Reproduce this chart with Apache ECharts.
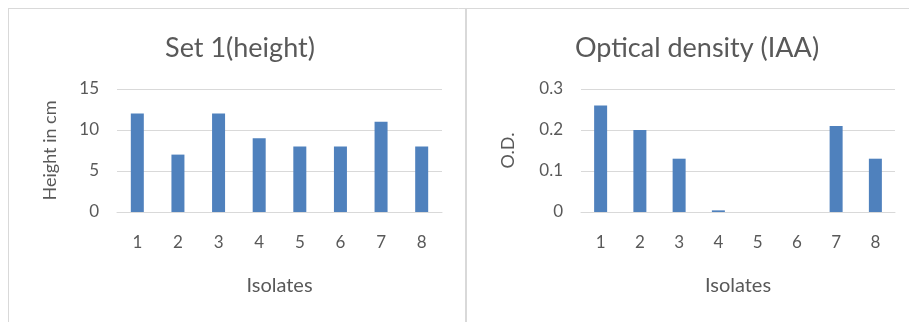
<!DOCTYPE html>
<html>
<head>
<meta charset="utf-8">
<script src="https://cdn.jsdelivr.net/npm/echarts@6/dist/echarts.min.js"></script>
<style>
  html, body { margin: 0; padding: 0; background: #fff; }
  #myChart { width: 909px; height: 322px; }
</style>
</head>
<body>
<div id="myChart"></div>
<script>
// 数据
const isolates = ['1', '2', '3', '4', '5', '6', '7', '8'];
const heightCm = [12, 7, 12, 9, 8, 8, 11, 8];
const opticalDensity = [0.26, 0.2, 0.13, 0.004, 0, 0, 0.21, 0.13];

const font = 'Lato, "Open Sans", sans-serif';
const textColor = '#595959';
const gridColor = '#D9D9D9';
const barColor = '#4F81BD';

let myChart = echarts.init(document.getElementById('myChart'));

// 公共坐标轴样式
const xAxisBase = gridIndex => ({
    type: 'category',
    gridIndex,
    data: isolates,
    name: 'Isolates',
    nameLocation: 'middle',
    nameGap: 64,
    nameTextStyle: {fontFamily: font, fontSize: 20, color: textColor},
    axisTick: {show: false},
    axisLine: {lineStyle: {color: gridColor, width: 1}},
    axisLabel: {fontFamily: font, fontSize: 17, color: textColor, margin: 22}
});

const yAxisBase = (gridIndex, name, max, interval, nameGap) => ({
    type: 'value',
    gridIndex,
    min: 0,
    max,
    interval,
    name,
    nameLocation: 'middle',
    nameGap,
    nameTextStyle: {fontFamily: font, fontSize: 18, color: textColor},
    axisLine: {show: false},
    axisTick: {show: false},
    splitLine: {lineStyle: {color: gridColor, width: 1}},
    axisLabel: {fontFamily: font, fontSize: 17, color: textColor, margin: 18}
});

let option = {
    animation: false,
    title: [
        {
            text: 'Set 1(height)',
            left: 235, top: 30, textAlign: 'center',
            textStyle: {fontFamily: font, fontSize: 27, fontWeight: 'normal', color: textColor}
        },
        {
            text: 'Optical density (IAA)',
            left: 692, top: 30, textAlign: 'center',
            textStyle: {fontFamily: font, fontSize: 27, fontWeight: 'normal', color: textColor}
        }
    ],
    grid: [
        {left: 117, right: 467, top: 89, bottom: 110},
        {left: 581, right: 14, top: 89, bottom: 110}
    ],
    xAxis: [xAxisBase(0), xAxisBase(1)],
    yAxis: [
        yAxisBase(0, 'Height in cm', 15, 5, 58),
        yAxisBase(1, 'O.D.', 0.3, 0.1, 64)
    ],
    series: [
        {type: 'bar', xAxisIndex: 0, yAxisIndex: 0, data: heightCm, barWidth: 13, itemStyle: {color: barColor}},
        {type: 'bar', xAxisIndex: 1, yAxisIndex: 1, data: opticalDensity, barWidth: 13, itemStyle: {color: barColor}}
    ],
    // 外框
    graphic: [
        {type: 'line', shape: {x1: 8, y1: 8.5, x2: 909, y2: 8.5}, style: {stroke: gridColor, lineWidth: 1}},
        {type: 'line', shape: {x1: 8.5, y1: 8, x2: 8.5, y2: 322}, style: {stroke: gridColor, lineWidth: 1}},
        {type: 'line', shape: {x1: 466, y1: 8, x2: 466, y2: 322}, style: {stroke: gridColor, lineWidth: 2}}
    ]
};

myChart.setOption(option);
</script>
</body>
</html>
